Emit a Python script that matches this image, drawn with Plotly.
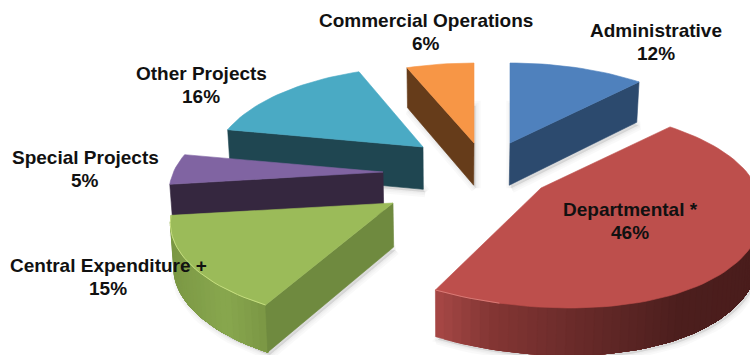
import math
import plotly.graph_objects as go

# Budget shares, clockwise from twelve o'clock
categories = ["Administrative", "Departmental *", "Central Expenditure +",
              "Special Projects", "Other Projects", "Commercial Operations"]
shares = [12, 46, 15, 5, 16, 6]

# Style and placement per slice
top_colors = ["#4f81bd", "#bd4f4c", "#9bbb59", "#8064a2", "#4aaac4", "#f79646"]
wall_colors = ["#2c4a6e", "#6e2d2b", "#6f8a3f", "#35273f", "#1f4651", "#663c1a"]
slice_tips = [(510, 143), (541, 188), (393, 203), (383, 172), (423, 147), (474, 143)]
slice_widths = [1.0, 1.0, 1.01, 0.97, 0.955, 1.0]
slice_skews = [0, 21, 0, 0, 0, 0]
label_spots = [(656, 42), (630, 221), (108, 277), (85, 169), (201, 85), (426, 32)]
paint_order = [0, 5, 4, 3, 2, 1]

# Perspective of the tilted disc
AX, AY, TILT = 216.0, 96.0, 0.2
LINE_GAP = 23


def rim_point(tip, width, skew, theta):
    s, c = math.sin(theta), math.cos(theta)
    w = 1 + TILT * c
    dx, dy = AX * s / w * width, -AY * c / w
    if dy > 0:
        dx += skew * (dy / 103) ** 2
    return tip[0] + dx, tip[1] + dy


def drop(x, y):
    """Point on the lower face beneath a top-face point."""
    depth = 40 + (y - 70) * 7 / 230
    return x + (450 - x) * 0.012, y + depth


def polygon(points, color, line_color=None, line_width=0.6):
    xs = [p[0] for p in points] + [points[0][0]]
    ys = [p[1] for p in points] + [points[0][1]]
    return go.Scatter(x=xs, y=ys, mode="lines", fill="toself", fillcolor=color,
                      line=dict(color=line_color or color, width=line_width),
                      hoverinfo="skip", showlegend=False)


def mix(c1, c2, t):
    a = [int(c1[i:i + 2], 16) for i in (1, 3, 5)]
    b = [int(c2[i:i + 2], 16) for i in (1, 3, 5)]
    return "rgb({},{},{})".format(*[round(a[i] + (b[i] - a[i]) * t) for i in range(3)])


def outer_wall_color(name, x):
    if name.startswith("Departmental"):
        stops = [(435, "#a84846"), (490, "#843634"), (575, "#6a2b2a"), (680, "#4c1e1d"), (750, "#4a1d1c")]
    else:
        stops = [(170, "#7b9844"), (225, "#88a74e"), (267, "#7a9644")]
    if x <= stops[0][0]:
        return stops[0][1]
    for (x0, c0), (x1, c1) in zip(stops, stops[1:]):
        if x <= x1:
            return mix(c0, c1, (x - x0) / (x1 - x0))
    return stops[-1][1]


# Slice angle spans in degrees
spans = []
running = 0.0
for share in shares:
    spans.append((running, running + share * 3.6))
    running += share * 3.6

shadows = []
bodies = []
annotations = []
for i in paint_order:
    name, share = categories[i], shares[i]
    top, wall, tip = top_colors[i], wall_colors[i], slice_tips[i]
    width, skew = slice_widths[i], slice_skews[i]
    start, end = spans[i]
    steps = max(int((end - start) / 2), 2)
    angles = [math.radians(start + (end - start) * k / steps) for k in range(steps + 1)]
    rim = [rim_point(tip, width, skew, a) for a in angles]

    # Soft cast shadow under the slice, painted beneath every body
    base = [drop(*p) for p in [tip] + rim]
    base = [(x + 2, y + 3) for x, y in base]
    for line_w in (10, 6, 3):
        shadows.append(polygon(base, "rgba(0,0,0,0.03)", "rgba(0,0,0,0.025)", line_w))

    # Curved outer wall, front half only; each band runs to the far end so no seams show
    lo, hi = max(start, 90), min(end, 270)
    if hi - lo > 10:
        n = int((hi - lo) / 2)
        arc = [math.radians(lo + (hi - lo) * k / n) for k in range(n + 1)]
        pts = [rim_point(tip, width, skew, a) for a in arc]
        if pts[0][0] > pts[-1][0]:
            pts.reverse()
        for k in range(len(pts) - 1):
            band = pts[k:]
            color = outer_wall_color(name, (pts[k][0] + pts[k + 1][0]) / 2)
            bodies.append(polygon(band + [drop(*p) for p in reversed(band)], color))

    # Flat cut wall facing the viewer
    if 180 < start < 360:
        bodies.append(polygon([tip, rim[0], drop(*rim[0]), drop(*tip)], wall))
    if 0 < end < 180:
        bodies.append(polygon([tip, rim[-1], drop(*rim[-1]), drop(*tip)], wall))

    # Top face
    bodies.append(polygon([tip] + rim, top))

    # Thin highlight along the lit part of the front rim
    if name.startswith("Central"):
        glint, tint = rim, "#c6de80"
    elif name.startswith("Departmental"):
        glint, tint = [p for p in rim if p[0] < 505], "#d97a76"
    else:
        glint = None
    if glint:
        bodies.append(go.Scatter(x=[p[0] for p in glint], y=[p[1] for p in glint], mode="lines",
                                 line=dict(color=tint, width=1), hoverinfo="skip", showlegend=False))

    # Two-line label: name above, share below
    for text, shift in ((name, -LINE_GAP / 2), (f"{share}%", LINE_GAP / 2)):
        annotations.append(dict(x=label_spots[i][0], y=label_spots[i][1] + shift, xref="x", yref="y",
                                showarrow=False, text=f"<b>{text}</b>", align="center",
                                font=dict(family="Liberation Sans", size=19, color="#111111")))

fig = go.Figure(shadows + bodies)
fig.update_layout(width=750, height=355, margin=dict(l=0, r=0, t=0, b=0),
                  paper_bgcolor="white", plot_bgcolor="white",
                  annotations=annotations, showlegend=False)
fig.update_xaxes(range=[0, 750], visible=False, fixedrange=True)
fig.update_yaxes(range=[355, 0], visible=False, fixedrange=True)
fig.write_html("out.html", config={"displayModeBar": False})
